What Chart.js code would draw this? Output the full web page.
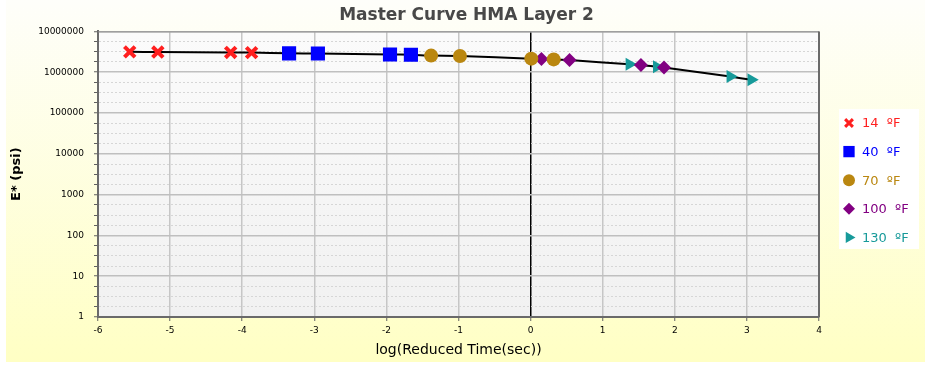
<!DOCTYPE html>
<html>
<head>
<meta charset="utf-8">
<script src="https://cdn.jsdelivr.net/npm/chart.js@4.4.1/dist/chart.umd.min.js"></script>
<style>
  html, body { margin: 0; padding: 0; background: #ffffff; }
  #wrap { width: 927px; height: 366px; }
</style>
</head>
<body>
<div id="wrap"><canvas id="masterChart" width="927" height="366"></canvas></div>
<script>
// Texte
let chartTitle = 'Master Curve HMA Layer 2';
let xAxisTitle = 'log(Reduced Time(sec))';
let yAxisTitle = 'E* (psi)';

// Temperaturen für die Legende
let tempLabels = ['14  ºF', '40  ºF', '70  ºF', '100  ºF', '130  ºF'];

// log(reduzierte Zeit) und E* (psi) je Temperatur
let time14 = [-5.56, -5.17, -4.16, -3.87];
let modulus14 = [3150000, 3120000, 3050000, 3020000];
let time40 = [-3.35, -2.95, -1.95, -1.66];
let modulus40 = [2900000, 2880000, 2720000, 2680000];
let time70 = [-1.38, -0.98, 0.01, 0.32];
let modulus70 = [2550000, 2500000, 2150000, 2060000];
let time100 = [0.15, 0.54, 1.53, 1.85];
let modulus100 = [2120000, 1980000, 1500000, 1310000];
let time130 = [1.37, 1.75, 2.77, 3.06];
let modulus130 = [1570000, 1360000, 780000, 650000];

// Achsenbeschriftungen
let xTickLabels = ['-6', '-5', '-4', '-3', '-2', '-1', '0', '1', '2', '3', '4'];
let yTickLabels = ['1', '10', '100', '1000', '10000', '100000', '1000000', '10000000'];

// Darstellung der Serien
let seriesStyle = [
  { color: '#ff1f1f', pointStyle: 'crossRot', radius: 7.5, borderWidth: 4, legendRadius: 5.5, legendWidth: 3 },
  { color: '#0000ff', pointStyle: 'rect', radius: 10, borderWidth: 0, legendRadius: 8, legendWidth: 0 },
  { color: '#ba8710', pointStyle: 'circle', radius: 7, borderWidth: 0, legendRadius: 6, legendWidth: 0 },
  { color: '#820082', pointStyle: 'rectRot', radius: 7, borderWidth: 0, legendRadius: 6, legendWidth: 0 },
  { color: '#179a9a', pointStyle: 'triangle', radius: 7.5, borderWidth: 0, legendRadius: 6.5, legendWidth: 0, rotation: 90 }
];

let seriesX = [time14, time40, time70, time100, time130];
let seriesY = [modulus14, modulus40, modulus70, modulus100, modulus130];

// Messpunkte als Datensätze
let datasets = seriesX.map((xs, s) => {
  let st = seriesStyle[s];
  return {
    label: tempLabels[s],
    data: xs.map((x, i) => ({ x: x, y: seriesY[s][i] })),
    showLine: false,
    pointStyle: st.pointStyle,
    pointRadius: st.radius,
    pointRotation: st.rotation || 0,
    pointBackgroundColor: st.color,
    pointBorderColor: st.color,
    pointBorderWidth: st.borderWidth,
    order: 1
  };
});

// Masterkurve durch alle Punkte (nach Zeit sortiert)
let curvePoints = [];
seriesX.forEach((xs, s) => xs.forEach((x, i) => curvePoints.push({ x: x, y: seriesY[s][i] })));
curvePoints.sort((a, b) => a.x - b.x);
datasets.push({
  label: 'curve',
  data: curvePoints,
  showLine: true,
  borderColor: '#000000',
  borderWidth: 2,
  pointRadius: 0,
  tension: 0.2,
  hideLegend: true,
  order: 10
});

// Hintergrund und Rahmen
let backgroundPlugin = {
  id: 'background',
  beforeDraw(chart) {
    let ctx = chart.ctx, a = chart.chartArea;
    ctx.save();
    ctx.fillStyle = '#ffffff';
    ctx.fillRect(0, 0, chart.width, chart.height);
    let g = ctx.createLinearGradient(0, 0, 0, chart.height - 4);
    g.addColorStop(0, '#fefefa');
    g.addColorStop(1, '#ffffc4');
    ctx.fillStyle = g;
    ctx.fillRect(6, 0, chart.width - 8, chart.height - 4);
    let p = ctx.createLinearGradient(0, a.top, 0, a.bottom);
    p.addColorStop(0, '#fbfbfb');
    p.addColorStop(1, '#f1f1f1');
    ctx.fillStyle = p;
    ctx.fillRect(a.left, a.top, a.right - a.left, a.bottom - a.top);
    ctx.restore();
  },
  beforeDatasetsDraw(chart) {
    let ctx = chart.ctx, a = chart.chartArea;
    ctx.save();
    ctx.strokeStyle = '#8c8c8c';
    ctx.lineWidth = 1;
    ctx.beginPath();
    ctx.moveTo(a.left, a.top + 0.5);
    ctx.lineTo(a.right, a.top + 0.5);
    ctx.stroke();
    ctx.strokeStyle = '#6a6a6a';
    ctx.lineWidth = 2;
    ctx.beginPath();
    ctx.moveTo(a.right, a.top);
    ctx.lineTo(a.right, a.bottom);
    ctx.stroke();
    ctx.restore();
  }
};

// Legende rechts neben dem Diagramm
let sideLegendPlugin = {
  id: 'sideLegend',
  afterDraw(chart) {
    let ctx = chart.ctx, a = chart.chartArea;
    let boxLeft = a.right + 20;
    ctx.save();
    ctx.fillStyle = '#ffffff';
    ctx.fillRect(boxLeft, 109, 80, 140);
    ctx.font = '13px "DejaVu Sans"';
    ctx.textBaseline = 'middle';
    chart.data.datasets.filter(ds => !ds.hideLegend).forEach((ds, i) => {
      let st = seriesStyle[i];
      let y = 123 + i * 28.6;
      ctx.fillStyle = st.color;
      ctx.strokeStyle = st.color;
      ctx.lineWidth = st.legendWidth;
      Chart.helpers.drawPoint(ctx, {
        pointStyle: st.pointStyle,
        radius: st.legendRadius,
        rotation: st.rotation || 0,
        borderWidth: st.legendWidth
      }, boxLeft + 10, y);
      ctx.fillStyle = st.color;
      ctx.fillText(ds.label, boxLeft + 23, y + 1);
    });
    ctx.restore();
  }
};

let config = {
  type: 'scatter',
  data: { datasets: datasets },
  plugins: [backgroundPlugin, sideLegendPlugin],
  options: {
    responsive: false,
    animation: false,
    layout: { padding: { left: 6, right: 0, top: 0, bottom: 4 } },
    plugins: {
      legend: { display: false },
      tooltip: { enabled: false },
      title: {
        display: true,
        text: chartTitle,
        color: '#484848',
        font: { family: 'DejaVu Sans', size: 17, weight: 'bold' },
        padding: { top: 5, bottom: 6 }
      }
    },
    scales: {
      x: {
        type: 'linear',
        min: -6,
        max: 4,
        afterBuildTicks: s => { s.ticks = xTickLabels.map(t => ({ value: Number(t) })); },
        afterFit: s => { s.height = 45; },
        ticks: {
          autoSkip: false,
          maxRotation: 0,
          padding: 4,
          color: '#000000',
          font: { family: 'DejaVu Sans', size: 9 },
          callback: (v, i) => xTickLabels[i]
        },
        grid: {
          color: c => (c.tick && c.tick.value === 0 ? '#000000' : '#c6c6c6'),
          lineWidth: 1.5,
          tickLength: 4,
          tickColor: '#606060',
          tickWidth: 1
        },
        border: { color: '#6a6a6a', width: 2 },
        title: {
          display: true,
          text: xAxisTitle,
          color: '#000000',
          font: { family: 'DejaVu Sans', size: 14 },
          padding: { top: 0, bottom: 3 }
        }
      },
      y: {
        type: 'logarithmic',
        min: 1,
        max: 10000000,
        afterBuildTicks: s => {
          // Hauptstriche pro Dekade, dazwischen drei Hilfslinien
          let ticks = [];
          yTickLabels.forEach((t, i) => {
            let v = Number(t);
            ticks.push({ value: v });
            if (i < yTickLabels.length - 1) {
              for (let k = 1; k < 4; k++) ticks.push({ value: v * Math.pow(10, k / 4) });
            }
          });
          s.ticks = ticks;
        },
        afterFit: s => { s.width = 92; },
        ticks: {
          autoSkip: false,
          padding: 10,
          color: '#000000',
          font: { family: 'DejaVu Sans', size: 9 },
          callback: (v, i) => (i % 4 === 0 ? yTickLabels[i / 4] : '')
        },
        grid: {
          color: c => (c.index % 4 === 0 ? '#bfbfbf' : '#d6d6d6'),
          lineWidth: c => (c.index % 4 === 0 ? 1.5 : 1),
          tickLength: 4,
          tickColor: '#606060',
          tickWidth: 1
        },
        border: {
          color: '#6a6a6a',
          width: 2,
          dash: c => (c.type === 'tick' && c.index % 4 !== 0 ? [2, 2] : [])
        },
        title: {
          display: true,
          text: yAxisTitle,
          color: '#000000',
          font: { family: 'DejaVu Sans', size: 13, weight: 'bold' },
          padding: { top: 3, bottom: 0 }
        }
      },
      // Platz für die Legende rechts
      legendSpace: {
        type: 'linear',
        axis: 'y',
        position: 'right',
        display: true,
        grid: { display: false },
        ticks: { display: false },
        border: { display: false },
        afterFit: s => { s.width = 108; }
      }
    }
  }
};

// Diagramm erstellen
let ctx = document.getElementById('masterChart').getContext('2d');
let masterChart = new Chart(ctx, config);
</script>
</body>
</html>
